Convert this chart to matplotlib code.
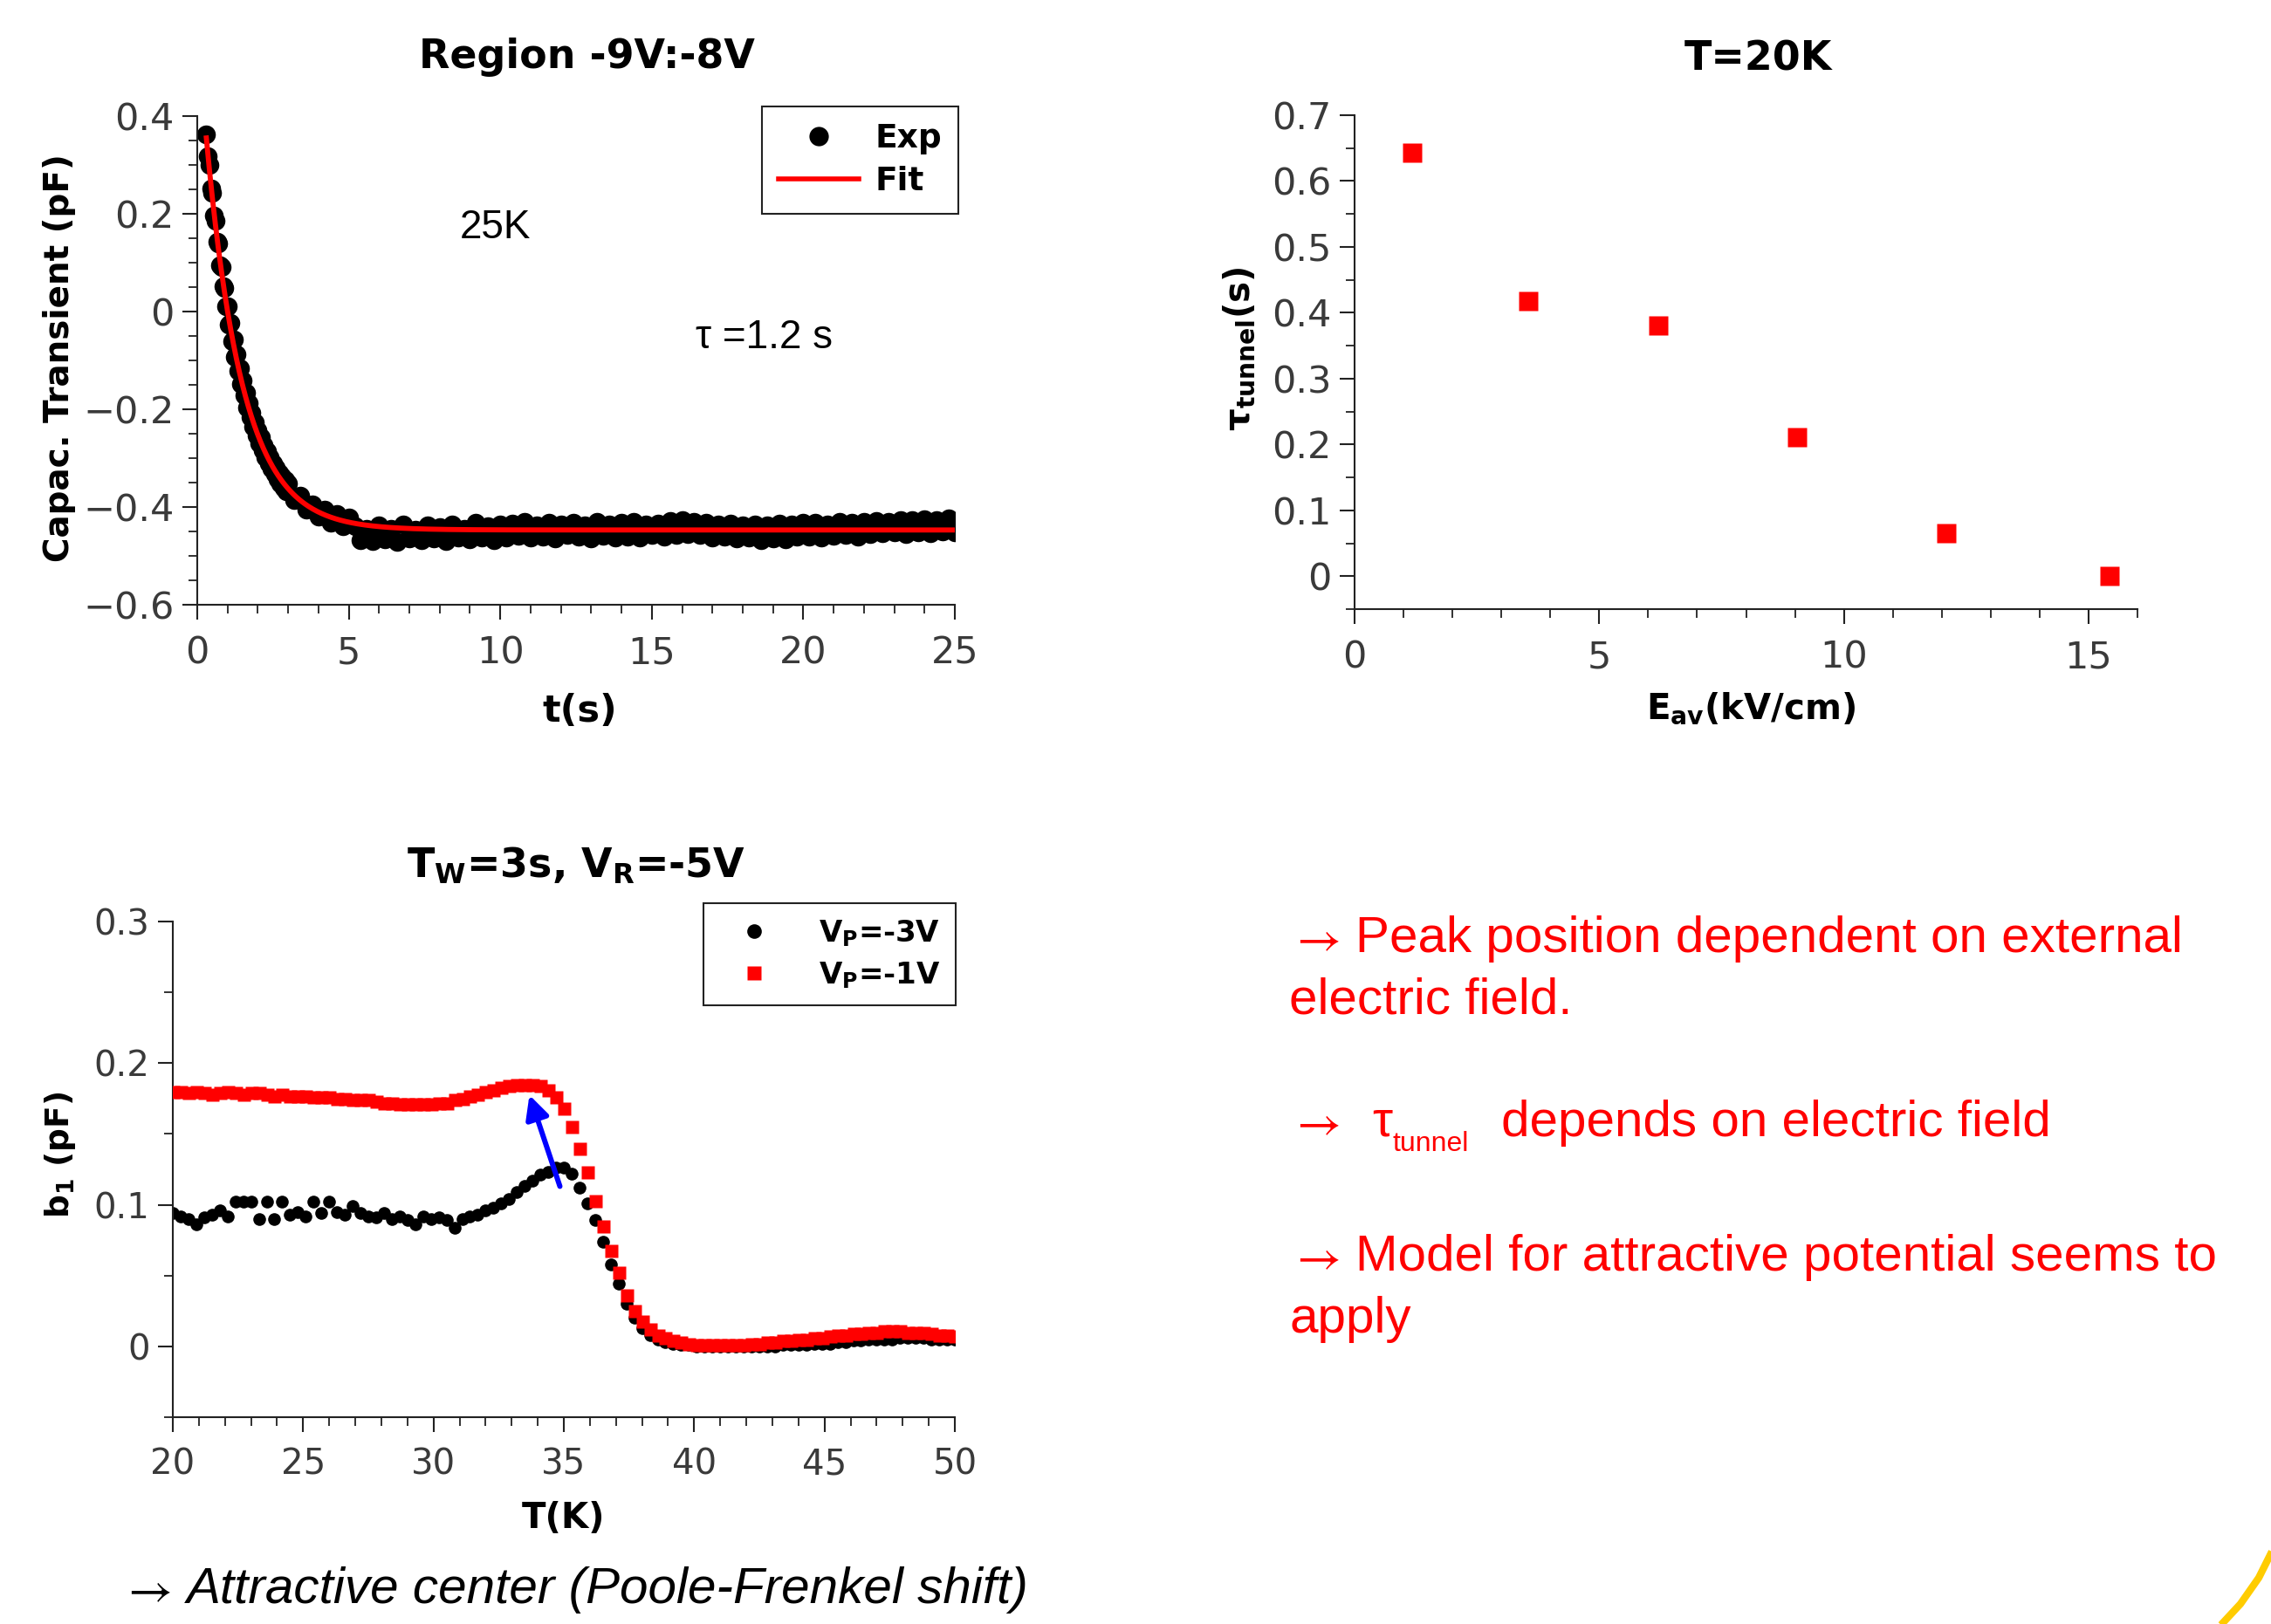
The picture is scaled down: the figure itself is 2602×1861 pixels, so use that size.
import numpy as np
import matplotlib
matplotlib.use("Agg")
import matplotlib.pyplot as plt
from matplotlib.lines import Line2D
from matplotlib.ticker import MultipleLocator, FuncFormatter

plt.rcParams["font.family"] = ["DejaVu Sans"]
plt.rcParams["mathtext.fontset"] = "dejavusans"

# ---------------- capacitance transient at 25 K ----------------
t_fast = np.linspace(0.30, 2.95, 54)
cap_fast = [0.362, 0.318, 0.300, 0.252, 0.243, 0.196, 0.186, 0.143, 0.139, 0.095,
            0.091, 0.052, 0.049, 0.011, 0.010, -0.027, -0.024, -0.061, -0.058, -0.092,
            -0.087, -0.122, -0.116, -0.148, -0.141, -0.172, -0.166, -0.196, -0.188, -0.216,
            -0.207, -0.236, -0.226, -0.253, -0.243, -0.269, -0.258, -0.284, -0.273, -0.298,
            -0.286, -0.311, -0.298, -0.322, -0.310, -0.333, -0.320, -0.343, -0.330, -0.352,
            -0.337, -0.360, -0.344, -0.368]
t_slow = np.linspace(3.0, 25.0, 111)
cap_slow = [-0.352, -0.385, -0.376, -0.406, -0.394, -0.420, -0.406, -0.433, -0.415, -0.440, -0.421,
            -0.440, -0.468, -0.445, -0.470, -0.438, -0.466, -0.444, -0.471, -0.436, -0.465,
            -0.446, -0.468, -0.437, -0.464, -0.441, -0.469, -0.435, -0.462, -0.444, -0.466,
            -0.433, -0.463, -0.440, -0.467, -0.436,
            -0.462, -0.434, -0.459, -0.431, -0.463, -0.438, -0.460, -0.432, -0.465, -0.436,
            -0.458, -0.433, -0.461, -0.437, -0.464, -0.430, -0.459, -0.435, -0.462, -0.433,
            -0.460, -0.431, -0.463, -0.436, -0.458,
            -0.434, -0.461, -0.429, -0.457, -0.427, -0.455, -0.430, -0.458, -0.433, -0.462,
            -0.436, -0.460, -0.434, -0.465, -0.438, -0.463, -0.435, -0.467, -0.437, -0.464,
            -0.434, -0.466, -0.436, -0.461, -0.433,
            -0.460, -0.432, -0.462, -0.435, -0.459, -0.431, -0.457, -0.433, -0.460, -0.430,
            -0.456, -0.428, -0.454, -0.430, -0.452, -0.426, -0.455, -0.427, -0.451, -0.425,
            -0.453, -0.426, -0.450, -0.424, -0.452]

# exponential fit parameters
tau_fit = 1.2
fit_amp = 1.03
fit_offset = -0.447
fit_start = 0.3

# ---------------- tunnelling time vs field at 20 K ----------------
field_kv = [1.17, 3.55, 6.21, 9.04, 12.1, 15.43]
tau_tunnel = [0.643, 0.418, 0.381, 0.211, 0.065, 0.0]

# ---------------- b1 vs temperature ----------------
temp_k = np.linspace(20.0, 50.0, 101)
b1_vp3 = [0.094, 0.092, 0.090, 0.086, 0.091, 0.093, 0.096, 0.092, 0.102, 0.102,
          0.102, 0.090, 0.102, 0.090, 0.102, 0.093, 0.095, 0.092, 0.102, 0.094,
          0.102, 0.095, 0.093, 0.099, 0.094, 0.092, 0.091, 0.094, 0.090, 0.092,
          0.089, 0.086, 0.092, 0.090, 0.091, 0.089, 0.084, 0.090, 0.092, 0.093,
          0.096, 0.098, 0.101, 0.104, 0.109, 0.113, 0.117, 0.121, 0.123, 0.126,
          0.126, 0.122, 0.112, 0.101, 0.089, 0.074, 0.058, 0.044, 0.030, 0.020,
          0.013, 0.008, 0.005, 0.003, 0.002, 0.001, 0.001, 0.000, 0.000, 0.000,
          0.000, 0.000, 0.000, 0.000, 0.000, 0.000, 0.000, 0.000, 0.001, 0.001,
          0.001, 0.001, 0.002, 0.002, 0.002, 0.003, 0.003, 0.004, 0.004, 0.005,
          0.005, 0.005, 0.005, 0.006, 0.006, 0.006, 0.006, 0.005, 0.005, 0.005,
          0.005]
b1_vp1 = [0.180, 0.180, 0.179, 0.180, 0.179, 0.178, 0.179, 0.180, 0.179, 0.178,
          0.179, 0.179, 0.178, 0.177, 0.178, 0.177, 0.177, 0.177, 0.176, 0.176,
          0.176, 0.175, 0.175, 0.174, 0.174, 0.174, 0.173, 0.172, 0.172, 0.171,
          0.171, 0.171, 0.171, 0.171, 0.172, 0.172, 0.174, 0.175, 0.177, 0.178,
          0.180, 0.181, 0.183, 0.184, 0.185, 0.185, 0.185, 0.184, 0.181, 0.176,
          0.168, 0.155, 0.140, 0.123, 0.103, 0.085, 0.068, 0.052, 0.036, 0.025,
          0.018, 0.012, 0.008, 0.006, 0.004, 0.003, 0.002, 0.001, 0.001, 0.001,
          0.001, 0.001, 0.001, 0.001, 0.002, 0.002, 0.003, 0.003, 0.004, 0.004,
          0.005, 0.005, 0.006, 0.006, 0.007, 0.008, 0.008, 0.009, 0.009, 0.010,
          0.010, 0.011, 0.011, 0.011, 0.010, 0.010, 0.010, 0.009, 0.008, 0.008,
          0.007]
# arrow marking the peak shift (T, b1): from the V_P=-3V peak to the V_P=-1V peak
shift_from = (34.85, 0.113)
shift_to = (33.68, 0.1775)

# ---------------- figure ----------------
W, H = 2602, 1861
fig = plt.figure(figsize=(W / 100, H / 100), dpi=100)
fig.patch.set_facecolor("white")


def rect(left, right, top, bottom):
    return [left / W, 1 - bottom / H, (right - left) / W, (bottom - top) / H]


TICK_COLOR = "#3a3a3a"
SPINE_COLOR = "#222222"


def fmt(v, _):
    if abs(v) < 1e-9:
        return "0"
    return f"{v:g}".replace("-", "\u2212")


def style_axes(ax, xmaj, xmin, ymaj, ymin, labelsize):
    for s in ("top", "right"):
        ax.spines[s].set_visible(False)
    for s in ("left", "bottom"):
        ax.spines[s].set_color(SPINE_COLOR)
        ax.spines[s].set_linewidth(1.5)
    ax.xaxis.set_major_locator(MultipleLocator(xmaj))
    ax.xaxis.set_minor_locator(MultipleLocator(xmin))
    ax.yaxis.set_major_locator(MultipleLocator(ymaj))
    ax.yaxis.set_minor_locator(MultipleLocator(ymin))
    ax.xaxis.set_major_formatter(FuncFormatter(fmt))
    ax.yaxis.set_major_formatter(FuncFormatter(fmt))
    ax.tick_params(which="major", length=12, width=1.5, color=SPINE_COLOR,
                   labelsize=labelsize, labelcolor=TICK_COLOR)
    ax.tick_params(which="minor", length=7, width=1.3, color=SPINE_COLOR)
    ax.tick_params(axis="x", which="major", pad=13)
    ax.tick_params(axis="y", which="major", pad=7)


def axis_labels(ax, xlabel, xpos, ylabel, ypos, xsize, ysize):
    ax.set_xlabel(xlabel, fontsize=xsize, fontweight="bold", va="center")
    ax.xaxis.set_label_coords(*xpos)
    ax.set_ylabel(ylabel, fontsize=ysize, fontweight="bold", va="center")
    ax.yaxis.set_label_coords(*ypos)


# --- top left: transient ---
ax1 = fig.add_axes(rect(226, 1094, 133, 693))
ax1.set_xlim(0, 25)
ax1.set_ylim(-0.6, 0.4)
style_axes(ax1, 5, 1, 0.2, 0.05, 31)
ax1.plot(t_fast, cap_fast, "o", ms=15.5, color="black", mec="none", zorder=2)
ax1.plot(t_slow, cap_slow, "o", ms=15.5, color="black", mec="none", zorder=2)
t_fit = np.linspace(fit_start, 25, 500)
ax1.plot(t_fit, fit_amp * np.exp(-t_fit / tau_fit) + fit_offset, color="red", lw=4.2, zorder=3)
axis_labels(ax1, "t(s)", (0.505, -0.218), "Capac. Transient (pF)", (-0.182, 0.505), 31, 28)
ax1.text(0.514, 1.12, "Region -9V:-8V", transform=ax1.transAxes, ha="center", va="center",
         fontsize=33, fontweight="bold")
ax1.text(9.84, 0.172, "25K", family="Liberation Sans", fontsize=33, ha="center", va="center")
ax1.text(18.72, -0.053, f"\u03c4 ={tau_fit:g} s", family="Liberation Sans", fontsize=33,
         ha="center", va="center")
h_exp = Line2D([], [], ls="none", marker="o", ms=16, color="black", mec="none")
h_fit = Line2D([], [], color="red", lw=4)
leg1 = ax1.legend([h_exp, h_fit], ["Exp", "Fit"], loc="upper right",
                  bbox_to_anchor=(1.0046, 1.0196), borderaxespad=0, fancybox=False,
                  edgecolor=SPINE_COLOR, framealpha=1, prop=dict(weight="bold", size=27),
                  handlelength=2.45, handletextpad=0.5, borderpad=0.5, labelspacing=0.35)
leg1.get_frame().set_linewidth(1.5)

# --- top right: tau_tunnel vs field ---
ax2 = fig.add_axes(rect(1552, 2449, 132, 698))
ax2.set_xlim(0, 16)
ax2.set_ylim(-0.05, 0.7)
style_axes(ax2, 5, 1, 0.1, 0.05, 31)
ax2.plot(field_kv, tau_tunnel, "s", ms=16.5, color="red", mec="none", clip_on=False)
axis_labels(ax2, r"E$_{\mathbf{av}}$(kV/cm)", (0.506, -0.201),
            "\u03c4$_{\\mathbf{tunnel}}$(s)", (-0.147, 0.527), 29, 29)
ax2.text(0.516, 1.113, "T=20K", transform=ax2.transAxes, ha="center", va="center",
         fontsize=33, fontweight="bold")

# --- bottom left: b1 vs T ---
ax3 = fig.add_axes(rect(198, 1094, 1056, 1624))
ax3.set_xlim(20, 50)
ax3.set_ylim(-0.05, 0.3)
style_axes(ax3, 5, 1, 0.1, 0.05, 29)
ax3.plot(temp_k, b1_vp3, "o", ms=10.5, color="black", mec="none", zorder=2)
ax3.plot(temp_k, b1_vp1, "s", ms=10.8, color="red", mec="none", zorder=3)
ax3.annotate("", xy=shift_to, xytext=shift_from,
             arrowprops=dict(arrowstyle="-|>", color="#0000ff", lw=4.3, mutation_scale=40,
                             shrinkA=0, shrinkB=0), zorder=4)
axis_labels(ax3, "T(K)", (0.499, -0.204), r"$\mathbf{b_1}$ (pF)", (-0.144, 0.53), 29, 27)
ax3.text(0.516, 1.113, r"$\mathbf{T_W}$=3s, $\mathbf{V_R}$=-5V", transform=ax3.transAxes,
         ha="center", va="center", fontsize=33, fontweight="bold")
h_vp3 = Line2D([], [], ls="none", marker="o", ms=12, color="black", mec="none")
h_vp1 = Line2D([], [], ls="none", marker="s", ms=11.5, color="red", mec="none")
leg3 = ax3.legend([h_vp3, h_vp1], [r"$\mathbf{V_P}$=-3V", r"$\mathbf{V_P}$=-1V"],
                  loc="upper right", bbox_to_anchor=(1.001, 1.037), borderaxespad=0,
                  fancybox=False, edgecolor=SPINE_COLOR, framealpha=1,
                  prop=dict(weight="bold", size=24.5), handlelength=2.4, handletextpad=1.0,
                  borderpad=0.5, labelspacing=0.4)
leg3.get_frame().set_linewidth(1.5)

# --- free text ---
RED = "#ff0000"
SANS = "Liberation Sans"
ARROW = r"$\rightarrow$"


def ftext(x, y, s, **kw):
    fig.text(x / W, 1 - y / H, s, va="baseline", ha="left", family=SANS,
             math_fontfamily="stix", **kw)


# bullet arrows
for y_base in (1091, 1302, 1456):
    ftext(1477, y_base, ARROW, color=RED, fontsize=40)
ftext(138, 1837, ARROW, color="black", fontsize=40)

ftext(1553, 1091, "Peak position dependent on external", color=RED, fontsize=42)
ftext(1477, 1162, "electric field.", color=RED, fontsize=42)
ftext(1572, 1302, "\u03c4", color=RED, fontsize=42)
ftext(1596, 1319, "tunnel", color=RED, fontsize=23)
ftext(1720, 1302, "depends on electric field", color=RED, fontsize=42)
ftext(1553, 1456, "Model for attractive potential seems to", color=RED, fontsize=42)
ftext(1477, 1527, "apply", color=RED, fontsize=42)
ftext(214, 1837, "Attractive center (Poole-Frenkel shift)", color="black",
      fontsize=42, style="italic")

# decorative corner stroke
corner = Line2D(np.array([2606, 2588, 2567, 2541]) / W, 1 - np.array([1772, 1808, 1838, 1866]) / H,
                transform=fig.transFigure, color="#ffcc00", lw=6, solid_capstyle="butt")
fig.add_artist(corner)

fig.savefig("out.png", dpi=100, facecolor="white")
